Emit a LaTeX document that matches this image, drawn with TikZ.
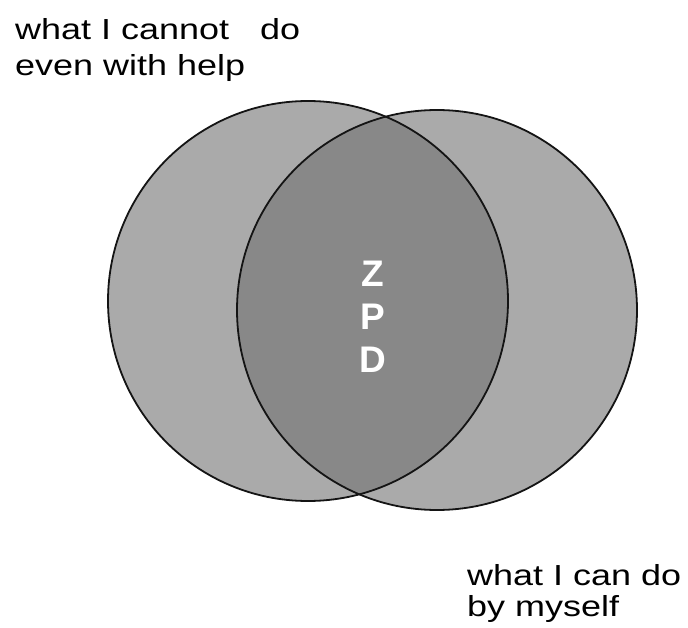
\documentclass[tikz,border=0pt]{standalone}
\usepackage{fontspec}
\setmainfont{Liberation Sans}
\newfontfamily\labfont[FakeStretch=1.24]{Liberation Sans}
\newfontfamily\zpdfont{Liberation Sans}
\definecolor{outergray}{RGB}{170,170,170}
\definecolor{lensgray}{RGB}{136,136,136}
\definecolor{edgeblack}{RGB}{20,20,20}
\tikzset{
  label text/.style={inner sep=0pt, align=left, text=black},
  zpd letter/.style={inner sep=0pt, text=white, font=\zpdfont\bfseries\fontsize{37}{37}\selectfont},
  circle edge/.style={draw=edgeblack, line width=1.8pt},
}
\begin{document}
\begin{tikzpicture}[x=1pt,y=-1pt]
\useasboundingbox (0,0) rectangle (688,628);
\fill[white] (0,0) rectangle (688,628);
% circles
\coordinate (cl) at (308,301);
\coordinate (cr) at (437,310);
\fill[outergray] (cl) circle[radius=200];
\fill[outergray] (cr) circle[radius=200];
\begin{scope}
  \clip (cl) circle[radius=200];
  \fill[lensgray] (cr) circle[radius=200];
\end{scope}
\draw[circle edge] (cl) circle[radius=200];
\draw[circle edge] (cr) circle[radius=200];
% ZPD
\node[zpd letter, anchor=base] (z) at (373,287) {Z};
\node[zpd letter, anchor=base] (p) at (373,330) {P};
\node[zpd letter, anchor=base] (d) at (373,372) {D};
% labels
\node[label text, anchor=base west] (top1) at (15,40) {\labfont\fontsize{29}{35}\selectfont what I cannot\hspace{31pt}do};
\node[label text, anchor=base west] (top2) at (15,76) {\labfont\fontsize{29}{35}\selectfont even with help};
\node[label text, anchor=base west] (bot1) at (467,585) {\labfont\fontsize{29}{31}\selectfont what I can do};
\node[label text, anchor=base west] (bot2) at (467,616) {\labfont\fontsize{29}{31}\selectfont by myself};
\end{tikzpicture}
\end{document}
